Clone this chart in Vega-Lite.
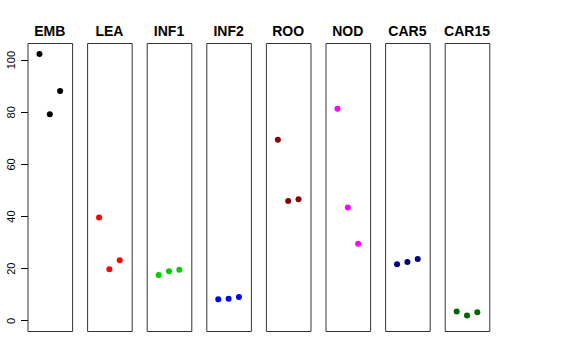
{
  "$schema": "https://vega.github.io/schema/vega-lite/v6.json",
  "padding": {"left": 4.5, "top": 24, "right": 5, "bottom": 5},
  "background": "white",
  "bounds": "flush",
  "data": {"values": [
    {"tissue": "EMB", "rep": 1, "value": 102.2},
    {"tissue": "EMB", "rep": 2, "value": 79.1},
    {"tissue": "EMB", "rep": 3, "value": 88.0},
    {"tissue": "LEA", "rep": 1, "value": 39.5},
    {"tissue": "LEA", "rep": 2, "value": 19.6},
    {"tissue": "LEA", "rep": 3, "value": 23.1},
    {"tissue": "INF1", "rep": 1, "value": 17.4},
    {"tissue": "INF1", "rep": 2, "value": 18.8},
    {"tissue": "INF1", "rep": 3, "value": 19.4},
    {"tissue": "INF2", "rep": 1, "value": 8.1},
    {"tissue": "INF2", "rep": 2, "value": 8.3},
    {"tissue": "INF2", "rep": 3, "value": 9.0},
    {"tissue": "ROO", "rep": 1, "value": 69.3},
    {"tissue": "ROO", "rep": 2, "value": 45.8},
    {"tissue": "ROO", "rep": 3, "value": 46.5},
    {"tissue": "NOD", "rep": 1, "value": 81.2},
    {"tissue": "NOD", "rep": 2, "value": 43.3},
    {"tissue": "NOD", "rep": 3, "value": 29.4},
    {"tissue": "CAR5", "rep": 1, "value": 21.5},
    {"tissue": "CAR5", "rep": 2, "value": 22.4},
    {"tissue": "CAR5", "rep": 3, "value": 23.5},
    {"tissue": "CAR15", "rep": 1, "value": 3.4},
    {"tissue": "CAR15", "rep": 2, "value": 1.9},
    {"tissue": "CAR15", "rep": 3, "value": 3.1}
  ]},
  "facet": {
    "column": {
      "field": "tissue",
      "type": "nominal",
      "sort": ["EMB", "LEA", "INF1", "INF2", "ROO", "NOD", "CAR5", "CAR15"],
      "header": {
        "title": null,
        "labelFont": "Liberation Sans",
        "labelFontSize": 14,
        "labelFontWeight": "bold",
        "labelColor": "black",
        "labelPadding": 4.5
      }
    }
  },
  "spacing": 14.6,
  "spec": {
    "width": 44.6,
    "height": 288,
    "mark": {"type": "point", "filled": true, "size": 36, "opacity": 1},
    "encoding": {
      "x": {
        "field": "rep",
        "type": "quantitative",
        "scale": {"domain": [-0.16, 4.16], "nice": false, "zero": false},
        "axis": null
      },
      "y": {
        "field": "value",
        "type": "quantitative",
        "scale": {"domain": [-4.09, 106.4], "nice": false, "zero": false},
        "axis": {
          "title": null,
          "values": [0, 20, 40, 60, 80, 100],
          "grid": false,
          "domain": false,
          "tickColor": "black",
          "tickSize": 7,
          "labelAngle": -90,
          "labelAlign": "center",
          "labelBaseline": "bottom",
          "labelPadding": 4,
          "labelFont": "Liberation Sans",
          "labelFontSize": 11,
          "labelColor": "black"
        }
      },
      "color": {
        "field": "tissue",
        "type": "nominal",
        "scale": {
          "domain": ["EMB", "LEA", "INF1", "INF2", "ROO", "NOD", "CAR5", "CAR15"],
          "range": ["#000000", "#FF0000", "#00CD00", "#0000FF", "#8B0000", "#FF00FF", "#000080", "#006400"]
        },
        "legend": null
      }
    }
  },
  "config": {
    "view": {"stroke": "#333333", "strokeWidth": 1},
    "axis": {"labelFlush": false}
  }
}
